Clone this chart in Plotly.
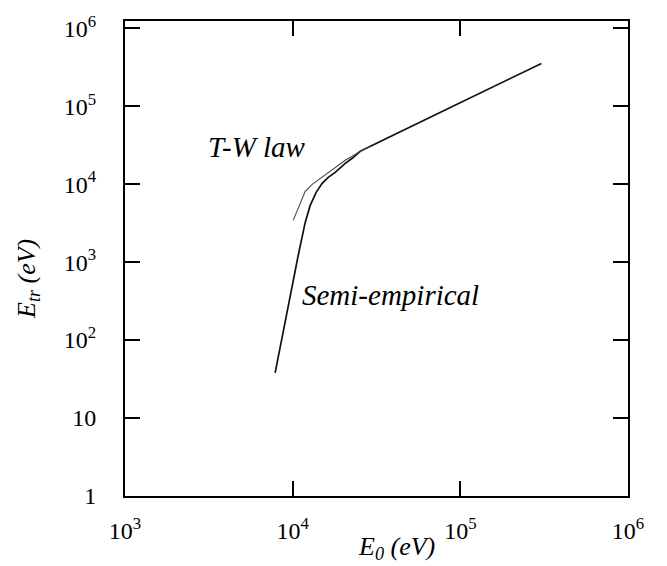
import plotly.graph_objects as go

# Semi-empirical curve (E0 in eV, Etr in eV)
E0_semi = [7860, 8420, 9020, 9890, 10790, 11880, 12720, 13810, 15000, 16290,
           17940, 20580, 22660, 25290, 29020, 43840, 87170, 173300, 304500]
Etr_semi = [38, 82, 178, 472, 1216, 3230, 5340, 7850, 10240, 12230,
            14180, 18500, 21470, 26400, 30620, 47000, 96200, 196900, 354000]

# T-W law curve
E0_tw = [10070, 10940, 11880, 13080, 14600, 16070, 17940, 20580, 22660, 25290, 29020]
Etr_tw = [3430, 5340, 8080, 9940, 11880, 13780, 16450, 20230, 22770, 26400, 30620]

x_tickvals = [1e3, 1e4, 1e5, 1e6]
x_ticktext = ["10<sup>3</sup>", "10<sup>4</sup>", "10<sup>5</sup>", "10<sup>6</sup>"]
y_tickvals = [1, 10, 1e2, 1e3, 1e4, 1e5, 1e6]
y_ticktext = ["1", "10", "10<sup>2</sup>", "10<sup>3</sup>", "10<sup>4</sup>",
              "10<sup>5</sup>", "10<sup>6</sup>"]

FONT = "Liberation Serif, Times New Roman, serif"

fig = go.Figure()
fig.add_trace(go.Scatter(x=E0_semi, y=Etr_semi, mode="lines",
                         line=dict(color="#111111", width=1.7), showlegend=False))
fig.add_trace(go.Scatter(x=E0_tw, y=Etr_tw, mode="lines",
                         line=dict(color="#4a4a4a", width=1.1), showlegend=False))

axis_common = dict(
    type="log", showgrid=False, zeroline=False,
    showline=True, linecolor="black", linewidth=2, mirror="ticks",
    ticks="inside", ticklen=15, tickwidth=2, tickcolor="black",
    tickfont=dict(family=FONT, size=24, color="black"),
)

fig.update_layout(
    width=667, height=566,
    margin=dict(l=125, r=39, t=21, b=70),
    paper_bgcolor="white", plot_bgcolor="white",
    font=dict(family=FONT, color="black"),
    xaxis=dict(range=[3, 6], tickvals=x_tickvals, ticktext=x_ticktext,
               ticklabelstandoff=12, **axis_common),
    yaxis=dict(range=[0, 6.093], tickvals=y_tickvals, ticktext=y_ticktext,
               ticklabelstandoff=22, **axis_common),
    annotations=[
        dict(text="<i>T-W law</i>", x=4.09, y=4.48, xref="x", yref="y",
             showarrow=False, xanchor="right", yanchor="middle",
             font=dict(family=FONT, size=29, color="black")),
        dict(text="<i>Semi-empirical</i>", x=4.045, y=2.58, xref="x", yref="y",
             showarrow=False, xanchor="left", yanchor="middle",
             font=dict(family=FONT, size=29, color="black")),
        dict(text="<i>E<sub>0</sub> (eV)</i>", x=396, y=566 - 548, xref="paper", yref="paper",
             showarrow=False, xanchor="center", yanchor="middle",
             font=dict(family=FONT, size=26, color="black")),
        dict(text="<i>E<sub>tr</sub> (eV)</i>", x=28, y=566 - 279, xref="paper", yref="paper",
             showarrow=False, xanchor="center", yanchor="middle", textangle=-90,
             font=dict(family=FONT, size=26, color="black")),
    ],
)

# convert pixel-placed titles to paper coordinates
plot_w = 667 - 125 - 39
plot_h = 566 - 21 - 70
for ann in fig.layout.annotations:
    if ann.xref == "paper":
        ann.x = (ann.x - 125) / plot_w
        ann.y = (ann.y - 70) / plot_h

fig.write_html("out.html")
